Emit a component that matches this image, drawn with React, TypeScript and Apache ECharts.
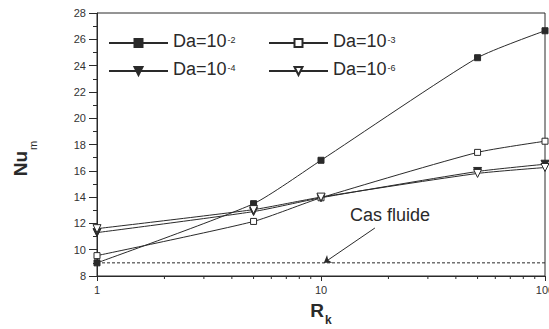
import React, { useEffect, useRef } from 'react';
import * as echarts from 'echarts';

const rk = [1, 5, 10, 50, 100];
const da2 = [9.0, 13.5, 16.8, 24.6, 26.65];
const da3 = [9.55, 12.15, 13.95, 17.4, 18.25];
const da4 = [11.3, 12.9, 13.95, 15.95, 16.5];
const da6 = [11.6, 13.05, 14.0, 15.8, 16.25];
const fluidValue = 9.0;
const xMinorTicks = [2, 3, 4, 5, 6, 7, 8, 9, 20, 30, 40, 50, 60, 70, 80, 90];
const seriesNames = ['Da=10-2', 'Da=10-3', 'Da=10-4', 'Da=10-6'];
const sups = ['-2', '-3', '-4', '-6'];
const arrowFrom = [17.4, 11.65];
const arrowTo = [10.3, 9.0];

const FONT = 'Liberation Sans, Arial, sans-serif';
const INK = '#2a2a2a';

const legendRich = {
  a: { fontSize: 18, lineHeight: 22, verticalAlign: 'top', color: INK, fontFamily: FONT },
  s: { fontSize: 9, lineHeight: 9, verticalAlign: 'top', padding: [3, 0, 0, 1], color: INK, fontFamily: FONT },
};

function mkLegend(i: number, left: number, top: number) {
  return {
    data: [seriesNames[i]],
    left,
    top,
    padding: 0,
    itemWidth: 59,
    itemHeight: 10,
    selectedMode: false,
    formatter: () => `{a|Da=10}{s|${sups[i]}}`,
    textStyle: { rich: legendRich },
  };
}

export default function App() {
  const ref = useRef<HTMLDivElement>(null);
  useEffect(() => {
    const chart = echarts.init(ref.current!, null, { renderer: 'svg' });
    const pair = (ys: number[]) => rk.map((x, i) => [x, ys[i]]);
    const lineSeries = (name: string, ys: number[], symbol: string, size: number, filled: boolean, rotate = 0) => ({
      name,
      type: 'line',
      data: pair(ys),
      smooth: 0.2,
      symbol,
      symbolSize: size,
      symbolRotate: rotate,
      lineStyle: { color: INK, width: 1 },
      itemStyle: { color: filled ? INK : '#fff', borderColor: INK, borderWidth: 1 },
      z: 3,
    });
    chart.setOption({
      animation: false,
      textStyle: { fontFamily: FONT },
      grid: {
        left: 97,
        right: 4,
        top: 13,
        bottom: 53,
        show: true,
        borderColor: INK,
        borderWidth: 1,
        containLabel: false,
        outerBoundsMode: 'none',
      },
      xAxis: {
        type: 'log',
        logBase: 10,
        min: 1,
        max: 100,
        axisLine: { lineStyle: { color: INK } },
        axisTick: { length: 5, lineStyle: { color: INK } },
        axisLabel: { fontSize: 11, color: '#333', margin: 8, fontFamily: FONT, hideOverlap: false },
        splitLine: { show: false },
      },
      yAxis: {
        type: 'value',
        min: 8,
        max: 28,
        interval: 2,
        axisLine: { show: true, lineStyle: { color: INK } },
        axisTick: { length: 8, lineStyle: { color: INK } },
        minorTick: { show: true, splitNumber: 2, length: 4, lineStyle: { color: INK } },
        axisLabel: { fontSize: 11, color: '#333', margin: 11, fontFamily: FONT },
        splitLine: { show: false },
      },
      legend: [mkLegend(0, 108, 32), mkLegend(1, 268, 32), mkLegend(2, 108, 60), mkLegend(3, 268, 60)],
      series: [
        {
          name: 'Cas fluide',
          type: 'line',
          data: [[1, fluidValue], [100, fluidValue]],
          symbol: 'none',
          lineStyle: { color: INK, width: 1, type: [3, 2] },
          z: 2,
          markLine: {
            silent: true,
            symbol: ['none', 'arrow'],
            symbolSize: 7,
            label: { show: false },
            lineStyle: { color: INK, width: 1, type: 'solid' },
            data: [[{ coord: arrowFrom }, { coord: arrowTo }]],
          },
        },
        lineSeries(seriesNames[0], da2, 'rect', 6, true),
        lineSeries(seriesNames[1], da3, 'rect', 6, false),
        lineSeries(seriesNames[2], da4, 'triangle', 8, true, 180),
        lineSeries(seriesNames[3], da6, 'triangle', 8, false, 180),
        {
          type: 'custom',
          coordinateSystem: 'cartesian2d',
          data: xMinorTicks.map((v) => [v, 8]),
          clip: false,
          silent: true,
          z: 5,
          renderItem: (_p: any, api: any) => {
            const pt = api.coord([api.value(0), api.value(1)]);
            return {
              type: 'line',
              shape: { x1: pt[0], y1: pt[1], x2: pt[0], y2: pt[1] + 3 },
              style: { stroke: INK, lineWidth: 1 },
            };
          },
        },
      ],
      graphic: [
        {
          type: 'text',
          x: 11,
          y: 158.5,
          rotation: Math.PI / 2,
          style: {
            text: '{a|Nu}{b|m}',
            align: 'center',
            verticalAlign: 'top',
            rich: {
              a: { fontSize: 19, fontWeight: 'bold', lineHeight: 22, verticalAlign: 'top', fill: INK, fontFamily: FONT },
              b: { fontSize: 11, lineHeight: 11, verticalAlign: 'top', padding: [16, 0, 0, 1], fill: INK, fontFamily: FONT },
            },
          },
        },
        {
          type: 'text',
          x: 321,
          y: 301,
          style: {
            text: '{a|R}{b|k}',
            align: 'center',
            verticalAlign: 'top',
            rich: {
              a: { fontSize: 19, fontWeight: 'bold', lineHeight: 22, verticalAlign: 'top', fill: INK, fontFamily: FONT },
              b: { fontSize: 12, fontWeight: 'bold', lineHeight: 12, verticalAlign: 'top', padding: [13, 0, 0, 1], fill: INK, fontFamily: FONT },
            },
          },
        },
        {
          type: 'text',
          left: 350,
          top: 206,
          style: { text: 'Cas fluide', fontSize: 18, fill: INK, fontFamily: FONT },
        },
      ],
    });
    return () => chart.dispose();
  }, []);
  return <div ref={ref} style={{ width: 549, height: 329, position: 'fixed', left: 0, top: 0, background: '#fff' }} />;
}
